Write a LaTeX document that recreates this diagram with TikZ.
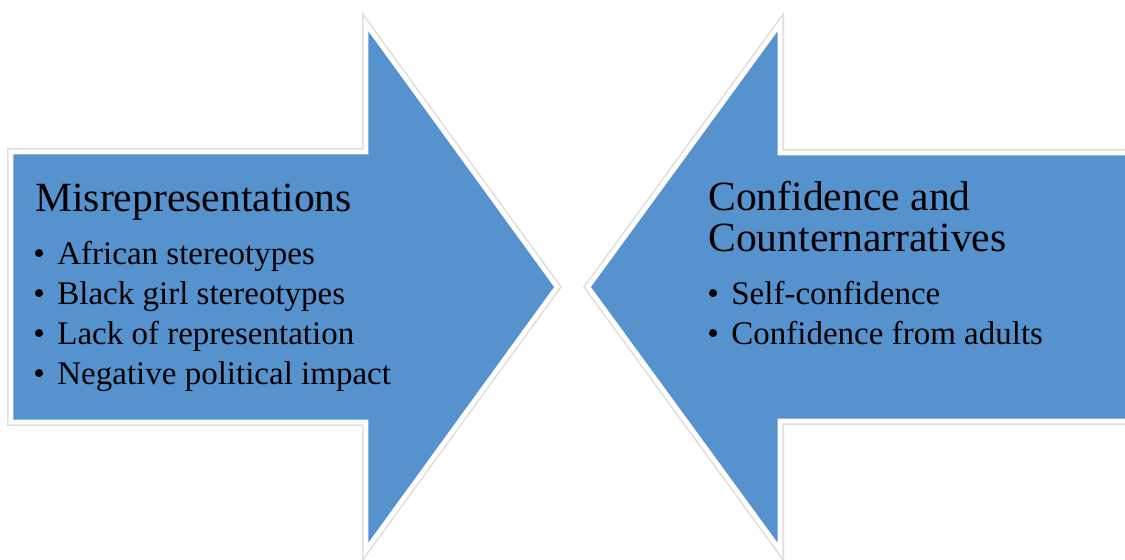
\documentclass[tikz,border=0pt]{standalone}
\usepackage{fontspec}
\setmainfont{Liberation Serif}
\usepackage{xcolor}
\usepackage{tikz}
\usetikzlibrary{positioning, shapes, arrows}
\definecolor{arrowBlue}{HTML}{5592CE}
\tikzstyle{arrowShadow}=[draw=black!12, line width=4pt, line join=miter]
\tikzstyle{arrowShape}=[fill=arrowBlue, draw=white, line width=2.3pt, line join=miter]
\tikzstyle{headingText}=[anchor=base west, inner sep=0pt, font=\fontsize{20.8}{21}\selectfont]
\tikzstyle{itemText}=[anchor=base west, inner sep=0pt, font=\fontsize{16.5}{20}\selectfont]
\newcommand{\bulletItem}[1]{\makebox[12pt][l]{\textbullet}#1}

\begin{document}
\begin{tikzpicture}[x=0.5pt, y=-0.5pt]
    \useasboundingbox (0,0) rectangle (1125,560);
    \clip (0,0) rectangle (1125,560);

    % right-pointing arrow
    \path[arrowShadow] (11,152) -- (366,152) -- (366,24) -- (557,287) -- (366,550) -- (366,422) -- (11,422) -- cycle;
    \path[arrowShape] (11,152) -- (366,152) -- (366,24) -- (557,287) -- (366,550) -- (366,422) -- (11,422) -- cycle;

    % left-pointing arrow
    \path[arrowShadow] (588,287) -- (780,24) -- (780,153) -- (1150,153) -- (1150,421) -- (780,421) -- (780,550) -- cycle;
    \path[arrowShape] (588,287) -- (780,24) -- (780,153) -- (1150,153) -- (1150,421) -- (780,421) -- (780,550) -- cycle;

    \node[headingText] (misrep) at (35,212) {Misrepresentations};
    \node[itemText] (african) at (33,265) {\bulletItem{African stereotypes}};
    \node[itemText] (blackgirl) at (33,305) {\bulletItem{Black girl stereotypes}};
    \node[itemText] (lack) at (33,345) {\bulletItem{Lack of representation}};
    \node[itemText] (negative) at (33,385) {\bulletItem{Negative political impact}};

    \node[headingText] (confidence) at (708,211) {Confidence and};
    \node[headingText] (counter) at (708,252) {Counternarratives};
    \node[itemText] (selfconf) at (707,305) {\bulletItem{Self-confidence}};
    \node[itemText] (adults) at (707,345) {\bulletItem{Confidence from adults}};

\end{tikzpicture}
\end{document}
